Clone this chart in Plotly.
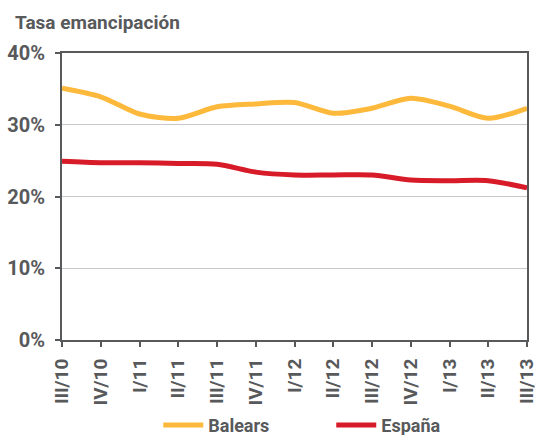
import plotly.graph_objects as go

categories = ["III/10", "IV/10", "I/11", "II/11", "III/11", "IV/11", "I/12",
              "II/12", "III/12", "IV/12", "I/13", "II/13", "III/13"]
balears = [35.1, 33.9, 31.5, 30.9, 32.5, 32.9, 33.1, 31.6, 32.3, 33.7, 32.6, 30.9, 32.3]
espana = [24.9, 24.7, 24.7, 24.6, 24.5, 23.4, 23.0, 23.0, 23.0, 22.3, 22.2, 22.2, 21.2]
yticks = [0, 10, 20, 30, 40]
ytick_labels = ["0%", "10%", "20%", "30%", "40%"]

FONT = "Roboto"
GREY = "#58595b"

fig = go.Figure()
fig.add_trace(go.Scatter(x=categories, y=balears, name="Balears", mode="lines",
                         line=dict(color="#fdb93c", width=5, shape="spline", smoothing=0.8)))
fig.add_trace(go.Scatter(x=categories, y=espana, name="España", mode="lines",
                         line=dict(color="#d81b29", width=5, shape="spline", smoothing=0.8)))

fig.update_layout(
    width=535, height=435,
    margin=dict(l=62, r=8, t=53, b=95, autoexpand=False),
    plot_bgcolor="white", paper_bgcolor="white",
    font=dict(family=FONT, color=GREY),
    showlegend=True,
    legend=dict(orientation="h", x=0.207, xanchor="left", y=-0.297, yanchor="middle",
                yref="paper",
                font=dict(family=FONT, size=18, color=GREY, weight="bold"),
                itemwidth=40, traceorder="normal", entrywidth=118),
    annotations=[dict(text="<b>Tasa emancipación</b>", xref="paper", yref="paper",
                      x=-0.105, y=1.108, xanchor="left", yanchor="middle", showarrow=False,
                      font=dict(family=FONT, size=19, color=GREY))],
)
fig.update_xaxes(
    type="category", range=[0, 12], showgrid=False, automargin=False,
    showline=True, linecolor=GREY, linewidth=2, mirror=True,
    ticks="outside", ticklen=5, tickwidth=2, tickcolor=GREY,
    ticklabelstandoff=4,
    tickangle=-90, tickfont=dict(family=FONT, size=19, color=GREY, weight="bold"),
)
fig.update_yaxes(
    range=[0, 40], tickvals=yticks, ticktext=ytick_labels, automargin=False,
    showgrid=True, gridcolor="#c8c8c8", gridwidth=1,
    showline=True, linecolor=GREY, linewidth=2, mirror=True,
    ticks="outside", ticklen=5, tickwidth=2, tickcolor=GREY,
    ticklabelstandoff=6,
    tickfont=dict(family=FONT, size=20, color=GREY, weight="bold"),
    zeroline=False,
)
fig.write_html("out.html", config={"displayModeBar": False},
               post_script="document.body.style.margin='0';document.body.style.overflow='hidden';")
